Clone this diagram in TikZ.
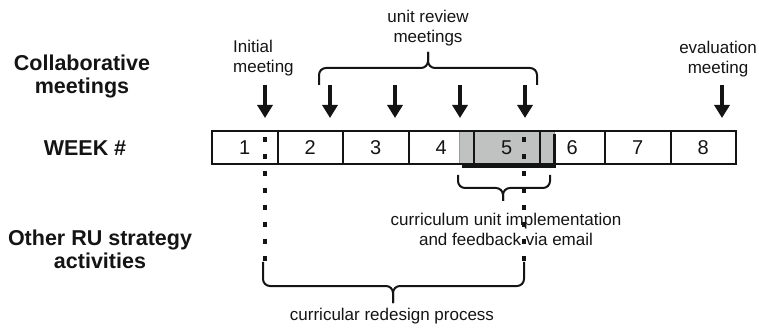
\documentclass[tikz,border=0pt]{standalone}
\usepackage{fontspec}
\setmainfont{Liberation Sans}
\usetikzlibrary{arrows.meta}
\definecolor{shade}{RGB}{192,193,193}
\definecolor{ink}{RGB}{20,20,20}
\begin{document}
\begin{tikzpicture}[x=1pt,y=-1pt,
  weekbox/.style={draw=ink, line width=2pt, minimum width=65.5pt, minimum height=33pt, inner sep=0pt,
                  font=\fontsize{20}{22}\selectfont, text=ink},
  lab/.style={font=\fontsize{21.5}{23}\selectfont\bfseries, align=center, text=ink, inner sep=0pt},
  note/.style={font=\fontsize{17}{20}\selectfont, align=center, text=ink, inner sep=0pt},
  meet/.style={draw=ink, line width=3.5pt, -{Triangle[width=15pt,length=13pt]}},
  bracket/.style={draw=ink, line width=2pt, rounded corners=7pt},
  dots/.style={draw=ink, line width=3.5pt, dash pattern=on 5pt off 12pt}]

\useasboundingbox (0,0) rectangle (759,328);

% highlighted implementation period
\node[fill=shade, draw=shade!80!black, line width=0.6pt, minimum width=95pt, minimum height=33pt, inner sep=0pt] (hl) at (506.5,147.5) {};

% week boxes
\foreach \i in {1,...,8}
  \node[weekbox] (w\i) at ({212+65.5*(\i-0.5)},147.5) {\i};

% thick marks of the implementation period
\draw[ink, line width=3.5pt] (462,166.5) -- (556,166.5);
\draw[ink, line width=3pt] (554,134) -- (554,168);

% meeting arrows
\foreach \n/\x in {1/265,2/330,3/395,4/460,5/525,6/722} {
  \coordinate (m\n a) at (\x,85);
  \coordinate (m\n b) at (\x,118);
  \draw[meet] (m\n a) -- (m\n b);
}

% dotted lines of the redesign process
\coordinate (d1a) at (265,137); \coordinate (d1b) at (265,262);
\coordinate (d2a) at (524,137); \coordinate (d2b) at (524,262);
\draw[dots] (d1a) -- (d1b);
\draw[dots] (d2a) -- (d2b);

% braces
\draw[bracket] (319,85) -- (319,68) -- (428,68) -- (428,52);
\draw[bracket] (537,85) -- (537,68) -- (428,68) -- (428,52);

\draw[bracket] (458,175) -- (458,188) -- (503,188) -- (503,201);
\draw[bracket] (550,175) -- (550,188) -- (503,188) -- (503,201);

\draw[bracket] (263,262) -- (263,286) -- (393,286) -- (393,303);
\draw[bracket] (524,262) -- (524,286) -- (393,286) -- (393,303);

% labels
\node[note] (urm) at (428,28) {unit review\\meetings};
\node[note, align=left, anchor=west] (init) at (233,58) {Initial\\meeting};
\node[note] (eval) at (718,59) {evaluation\\meeting};
\node[note] (cui) at (506,229) {curriculum unit implementation\\and feedback via email};
\node[note] (crp) at (392,316) {curricular redesign process};

\node[lab] (cm) at (82,76) {Collaborative\\meetings};
\node[lab] (wk) at (85,148) {WEEK \#};
\node[lab] (ou) at (100,249) {Other RU strategy\\activities};
\end{tikzpicture}
\end{document}
